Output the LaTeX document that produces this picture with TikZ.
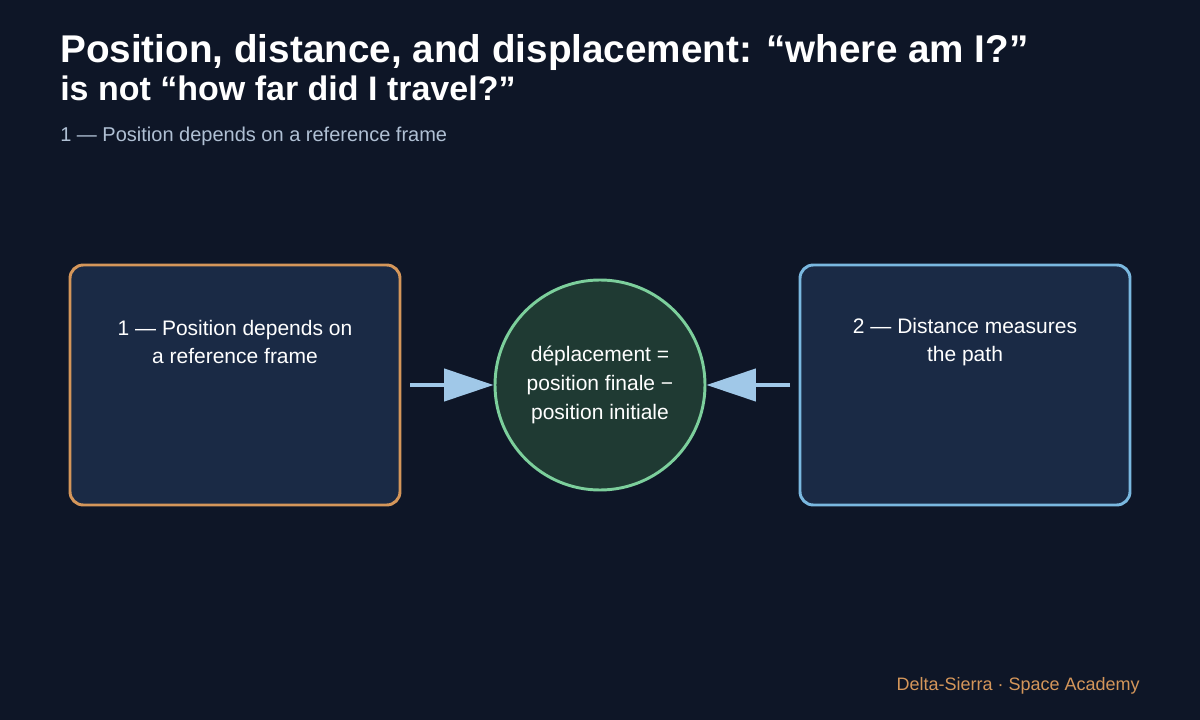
\documentclass[tikz,border=0pt]{standalone}
\usepackage{fontspec}
\setmainfont{Liberation Sans}
\usetikzlibrary{arrows.meta}
\definecolor{bg}{HTML}{0E1627}
\definecolor{boxfill}{HTML}{1A2A45}
\definecolor{orng}{HTML}{D4965A}
\definecolor{blu}{HTML}{7AB8E0}
\definecolor{cfill}{HTML}{1F3A33}
\definecolor{grn}{HTML}{7CCF9C}
\definecolor{arr}{HTML}{A0C8E8}
\definecolor{sub}{HTML}{B0C0D4}
\begin{document}
\begin{tikzpicture}[x=0.75pt,y=-0.75pt,
  box/.style={draw, line width=2.2pt, fill=boxfill, rounded corners=10pt, minimum width=247.5pt, minimum height=180pt},
  btxt/.style={text=white, font=\fontsize{15.75}{21.5}\selectfont, align=center},
  conn/.style={draw=arr, line width=3pt, -{Triangle[length=37pt,width=24pt]}}]
\useasboundingbox[fill=bg] (0,0) rectangle (1200,720);
\node[anchor=base west, text=white, font=\fontsize{29}{30}\selectfont\bfseries, inner sep=0] (t1) at (60,63) {Position, distance, and displacement: “where am I?”};
\node[anchor=base west, text=white, font=\fontsize{25.5}{30}\selectfont\bfseries, inner sep=0] (t2) at (60,101) {is not “how far did I travel?”};
\node[anchor=base west, text=sub, font=\fontsize{15}{18}\selectfont, inner sep=0] (st) at (60,142) {1 — Position depends on a reference frame};
\node[box, draw=orng] (L) at (235,385) {};
\node[btxt] (Lt) at (235,342) {1 — Position depends on\\a reference frame};
\node[box, draw=blu] (R) at (965,385) {};
\node[btxt] (Rt) at (965,342) {2 — Distance measures\\the path};
\node[circle, draw=grn, line width=2.2pt, fill=cfill, minimum size=157.5pt, btxt] (C) at (600,385) {déplacement =\\position finale −\\position initiale};
\coordinate (a1) at (410,385);
\coordinate (a2) at (790,385);
\draw[conn] (a1) -- (C.west);
\draw[conn] (a2) -- (C.east);
\node[anchor=base east, text=orng, font=\fontsize{13.5}{16}\selectfont, inner sep=0] (ft) at (1140,690) {Delta-Sierra · Space Academy};
\end{tikzpicture}
\end{document}
